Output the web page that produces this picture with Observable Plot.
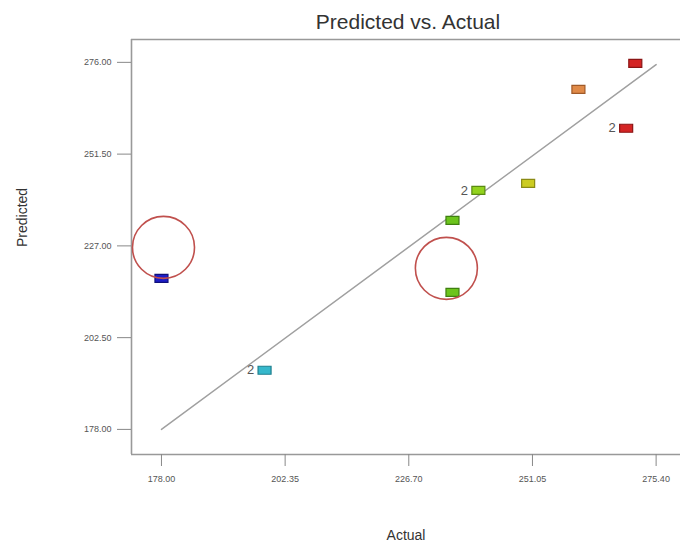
<!DOCTYPE html>
<html><head><meta charset="utf-8">
<script src="https://cdn.jsdelivr.net/npm/d3@7"></script>
<script src="https://cdn.jsdelivr.net/npm/@observablehq/plot@0.6"></script>
<style>
body{margin:0;background:#fff;font-family:"Liberation Sans",Arial,sans-serif;}
#wrap{position:relative;width:680px;height:545px;overflow:hidden;}
#title{position:absolute;top:10px;left:408px;transform:translateX(-50%);font-size:21px;line-height:24px;color:#333;white-space:nowrap;}
#chart{position:absolute;top:30px;left:0;}
</style></head>
<body><div id="wrap"><div id="title">Predicted vs. Actual</div><div id="chart"></div></div>
<script>
const actual    = [178.0, 198.3, 235.3, 235.3, 240.4, 250.2, 260.1, 269.5, 271.3];
const predicted = [218.3, 193.8, 233.8, 214.6, 241.8, 243.7, 268.8, 258.4, 275.7];
const counts    = [1, 2, 1, 1, 2, 1, 1, 2, 1];
const fills     = ["#1c1cc8", "#36b8cc", "#6cc41c", "#6cc41c", "#92d21e", "#cccc22", "#e08a48", "#d42424", "#d42424"];
const strokes   = ["#10107a", "#1f7f8e", "#3f7f10", "#3f7f10", "#5a8a12", "#8a8a14", "#a05a28", "#8a1414", "#8a1414"];
const xTicks = [178.00, 202.35, 226.70, 251.05, 275.40];
const yTicks = [178.00, 202.50, 227.00, 251.50, 276.00];
const lineEnds = [178.0, 275.4];
const circleX = [178.4, 234.1];
const circleY = [226.6, 221.0];
const xDomain = [172.1, 280.2];
const yDomain = [171.3, 282.1];

const pts = actual.map((a, i) => ({a, p: predicted[i], n: counts[i], f: fills[i], s: strokes[i]}));
const rectSym = {draw(ctx) { ctx.moveTo(-6.5, -4); ctx.lineTo(6.5, -4); ctx.lineTo(6.5, 4); ctx.lineTo(-6.5, 4); ctx.closePath(); }};
const fmt = d3.format(".2f");

const chart = Plot.plot({
  width: 680, height: 515,
  marginLeft: 131, marginRight: 0, marginTop: 9, marginBottom: 91,
  style: {fontFamily: "Liberation Sans, Arial, sans-serif", fontSize: "9px", color: "#444", background: "#fff"},
  x: {domain: xDomain, label: null},
  y: {domain: yDomain, label: null},
  marks: [
    Plot.ruleY([yDomain[1]], {stroke: "#999", strokeWidth: 1.6}),
    Plot.ruleY([yDomain[0]], {stroke: "#999", strokeWidth: 1.6}),
    Plot.ruleX([xDomain[0]], {stroke: "#999", strokeWidth: 1.6}),
    Plot.axisX({ticks: xTicks, tickFormat: fmt, tickSize: 12, tickPadding: 9, stroke: "#888", fill: "#555", label: null}),
    Plot.axisY({ticks: yTicks, tickFormat: fmt, tickSize: 14, tickPadding: 6, stroke: "#888", fill: "#555", label: null}),
    Plot.line(lineEnds.map(v => ({a: v, p: v})), {x: "a", y: "p", stroke: "#a0a0a0", strokeWidth: 1.5}),
    Plot.dot(pts, {x: "a", y: "p", symbol: rectSym, fill: "f", stroke: "s", strokeWidth: 1.2}),
    Plot.text(pts.filter(d => d.n > 1), {x: "a", y: "p", text: d => String(d.n), dx: -14, fontSize: 13, fill: "#555"}),
    Plot.dot(circleX.map((x, i) => ({x, y: circleY[i]})), {x: "x", y: "y", r: 31, stroke: "#c0504d", strokeWidth: 1.6, fill: "none"}),
    Plot.text(["Predicted"], {frameAnchor: "left", dx: -109, rotate: -90, fontSize: 14, fill: "#333", text: d => d}),
    Plot.text(["Actual"], {frameAnchor: "bottom", dy: 85, fontSize: 14, fill: "#333", text: d => d})
  ]
});
document.getElementById("chart").append(chart);
</script></body></html>
